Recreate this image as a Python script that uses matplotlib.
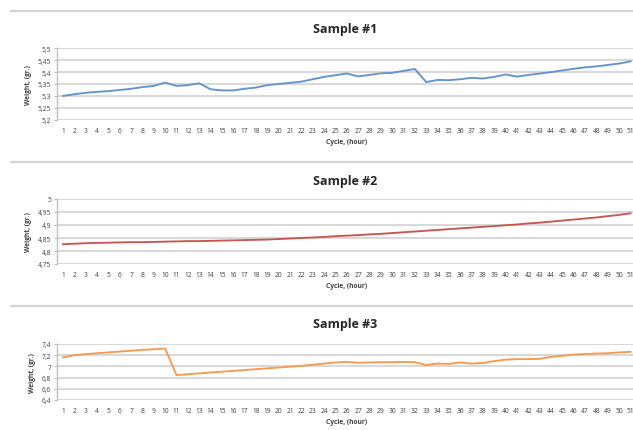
import matplotlib
matplotlib.use("Agg")
import matplotlib.pyplot as plt
from matplotlib.lines import Line2D

plt.rcParams['font.family'] = ['Open Sans', 'DejaVu Sans']

cycles = list(range(1, 52))
cycle_labels = [str(c) for c in cycles]

sample1 = [5.300, 5.307, 5.313, 5.317, 5.320, 5.325, 5.330, 5.337, 5.342, 5.356,
           5.342, 5.345, 5.353, 5.328, 5.323, 5.323, 5.330, 5.335, 5.345, 5.350,
           5.355, 5.360, 5.370, 5.380, 5.387, 5.394, 5.382, 5.388, 5.395, 5.397,
           5.405, 5.413, 5.358, 5.367, 5.366, 5.370, 5.376, 5.373, 5.380, 5.390,
           5.381, 5.388, 5.394, 5.400, 5.407, 5.414, 5.420, 5.424, 5.430, 5.436,
           5.445]
sample2 = [4.826, 4.828, 4.830, 4.831, 4.832, 4.833, 4.834, 4.834, 4.835, 4.836,
           4.837, 4.838, 4.838, 4.839, 4.840, 4.841, 4.842, 4.843, 4.844, 4.846,
           4.848, 4.850, 4.852, 4.854, 4.857, 4.859, 4.861, 4.864, 4.866, 4.869,
           4.872, 4.875, 4.878, 4.881, 4.884, 4.887, 4.890, 4.893, 4.896, 4.899,
           4.902, 4.906, 4.909, 4.913, 4.917, 4.921, 4.925, 4.929, 4.934, 4.939,
           4.945]
sample3 = [7.160, 7.200, 7.220, 7.235, 7.250, 7.265, 7.280, 7.295, 7.305, 7.320,
           6.845, 6.860, 6.875, 6.890, 6.905, 6.920, 6.935, 6.950, 6.965, 6.980,
           6.995, 7.010, 7.030, 7.050, 7.070, 7.080, 7.065, 7.070, 7.075, 7.075,
           7.080, 7.075, 7.025, 7.050, 7.045, 7.070, 7.050, 7.060, 7.095, 7.120,
           7.130, 7.130, 7.135, 7.170, 7.190, 7.210, 7.220, 7.230, 7.235, 7.250,
           7.260]

titles = ["Sample #1", "Sample #2", "Sample #3"]
y_ticks = [
    [5.2, 5.25, 5.3, 5.35, 5.4, 5.45, 5.5],
    [4.75, 4.8, 4.85, 4.9, 4.95, 5.0],
    [6.4, 6.6, 6.8, 7.0, 7.2, 7.4],
]
y_tick_labels = [
    ["5,2", "5,25", "5,3", "5,35", "5,4", "5,45", "5,5"],
    ["4,75", "4,8", "4,85", "4,9", "4,95", "5"],
    ["6,4", "6,6", "6,8", "7", "7,2", "7,4"],
]
x_label = "Cycle, (hour)"
y_label = "Weight, (gr.)"
series = [sample1, sample2, sample3]
colors = ["#6593cc", "#c65652", "#f59a4e"]

W, H = 633, 431
fig = plt.figure(figsize=(W / 100, H / 100), dpi=100)

# panel geometry in pixels: (top, bottom)
panels_px = [(49.3, 120.7), (200.0, 265.0), (345.0, 401.0)]
title_y_px = [29, 182, 325]
sep_y_px = [12, 163, 307]
left_px, right_px = 57.3, 636.2

for sy in sep_y_px:
    fig.add_artist(Line2D([11 / W, 1.0], [1 - sy / H, 1 - sy / H],
                          color="#d4d4d4", lw=1.6, transform=fig.transFigure))

for i in range(3):
    top, bot = panels_px[i]
    ax = fig.add_axes([left_px / W, 1 - bot / H, (right_px - left_px) / W, (bot - top) / H])
    ax.plot(cycles, series[i], color=colors[i], lw=1.35, solid_joinstyle="round")
    ax.set_xlim(0.5, 51.5)
    ax.set_ylim(y_ticks[i][0], y_ticks[i][-1])
    ax.set_yticks(y_ticks[i])
    ax.set_yticklabels(y_tick_labels[i])
    ax.set_xticks(cycles)
    ax.set_xticklabels(cycle_labels)
    ax.grid(axis="y", color="#d9d9d9", lw=1.5)
    ax.set_axisbelow(True)
    for s in ["top", "right", "bottom"]:
        ax.spines[s].set_visible(False)
    ax.spines["left"].set_color("#bfbfbf")
    ax.spines["left"].set_linewidth(1.0)
    ax.tick_params(axis="y", length=2.5, width=0.8, color="#bfbfbf", labelsize=4.8,
                   pad=2, labelcolor="#404040")
    ax.tick_params(axis="x", length=0, labelsize=4.8, pad=5, labelcolor="#404040")
    ax.set_xlabel(x_label, fontsize=4.8, fontweight="bold", color="#404040", labelpad=3)
    ax.set_ylabel(y_label, fontsize=4.8, fontweight="bold", color="#404040", labelpad=4)
    fig.text(345 / W, 1 - title_y_px[i] / H, titles[i], ha="center", va="center",
             fontsize=9, fontweight="bold", color="#262626")

fig.savefig("out.png", dpi=100, facecolor="white")
